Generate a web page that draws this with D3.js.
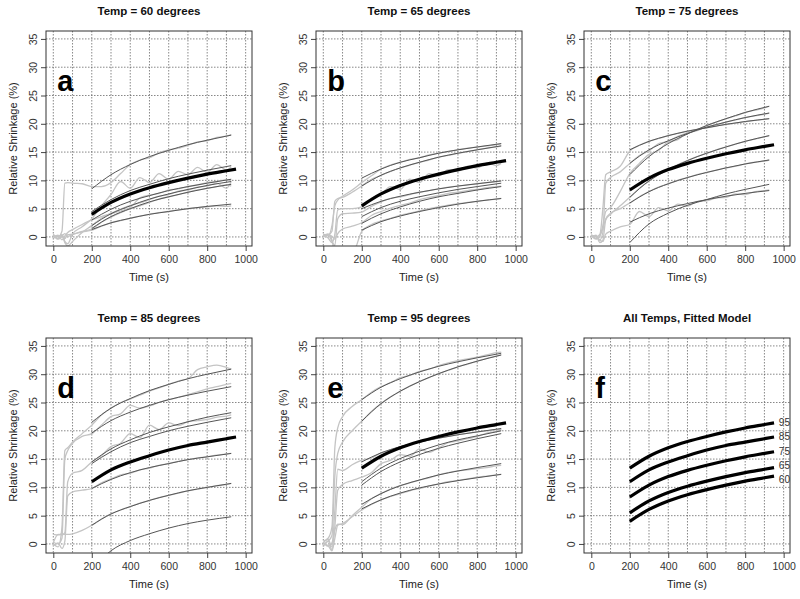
<!DOCTYPE html>
<html>
<head>
<meta charset="utf-8">
<script src="https://cdn.jsdelivr.net/npm/d3@7"></script>
<style>
  body { margin: 0; background: #fff; }
  svg { font-family: "Liberation Sans", Arial, sans-serif; }
</style>
</head>
<body>
<div id="chart"></div>
<script>

// ----------------------------------------------------------------
// Data
// ----------------------------------------------------------------

const panelLetters = ["a", "b", "c", "d", "e", "f"];
const panelTitles = ["Temp = 60 degrees", "Temp = 65 degrees", "Temp = 75 degrees",
                     "Temp = 85 degrees", "Temp = 95 degrees", "All Temps, Fitted Model"];
const temps = [60, 65, 75, 85, 95];

const xTicks = [0, 200, 400, 600, 800, 1000];
const yTicks = [0, 5, 10, 15, 20, 25, 30, 35];

// times of the fitted model curves (thick black)
const modelTimes = [200, 300, 400, 500, 600, 700, 800, 900, 950];
const model60 = [4.0, 6.1, 7.6, 8.7, 9.6, 10.4, 11.1, 11.7, 12.0];
const model65 = [5.5, 7.6, 9.1, 10.2, 11.1, 11.9, 12.6, 13.2, 13.5];
const model75 = [8.3, 10.4, 11.9, 13.0, 13.9, 14.7, 15.4, 16.0, 16.3];
const model85 = [11.0, 13.1, 14.5, 15.6, 16.6, 17.4, 18.0, 18.6, 18.9];
const model95 = [13.4, 15.5, 17.0, 18.1, 19.0, 19.8, 20.5, 21.1, 21.4];

// times of the individual fitted curves (dark grey)
const fitTimes = [200, 300, 400, 500, 600, 700, 800, 925];
const fitA = [
  [8.5, 11.0, 12.8, 14.2, 15.3, 16.3, 17.1, 18.0],
  [4.5, 6.6, 8.2, 9.3, 10.3, 11.1, 11.8, 12.6],
  [3.0, 4.9, 6.3, 7.3, 8.2, 8.9, 9.5, 10.2],
  [2.0, 4.1, 5.5, 6.7, 7.6, 8.4, 9.1, 9.8],
  [1.5, 3.6, 5.0, 6.2, 7.1, 7.9, 8.6, 9.3],
  [1.3, 2.5, 3.3, 4.0, 4.5, 5.0, 5.4, 5.8]
];
const fitB = [
  [10.4, 12.0, 13.2, 14.0, 14.8, 15.4, 15.9, 16.5],
  [9.0, 10.9, 12.2, 13.2, 14.1, 14.8, 15.4, 16.1],
  [5.0, 6.3, 7.2, 7.9, 8.5, 9.0, 9.4, 9.9],
  [3.6, 5.2, 6.3, 7.1, 7.8, 8.4, 8.9, 9.5],
  [2.4, 4.1, 5.3, 6.3, 7.1, 7.7, 8.3, 8.9],
  [1.2, 2.7, 3.7, 4.5, 5.2, 5.8, 6.3, 6.8]
];
const fitC = [
  [15.4, 16.9, 17.9, 18.7, 19.3, 19.9, 20.4, 20.9],
  [13.0, 15.4, 17.0, 18.3, 19.4, 20.3, 21.1, 21.9],
  [11.0, 14.2, 16.5, 18.2, 19.7, 20.9, 22.0, 23.1],
  [7.0, 9.9, 11.9, 13.5, 14.8, 15.9, 16.9, 17.9],
  [6.0, 8.0, 9.4, 10.5, 11.4, 12.2, 12.9, 13.6],
  [2.6, 4.1, 5.1, 5.9, 6.6, 7.2, 7.7, 8.2],
  [-1.0, 2.3, 4.2, 5.6, 6.6, 7.6, 8.4, 9.3]
];
const fitD = [
  [21.5, 24.0, 25.7, 27.1, 28.2, 29.2, 30.0, 30.9],
  [19.6, 21.8, 23.3, 24.5, 25.5, 26.3, 27.0, 27.8],
  [14.5, 16.8, 18.4, 19.7, 20.7, 21.6, 22.4, 23.2],
  [14.2, 16.3, 17.9, 19.0, 20.0, 20.8, 21.5, 22.3],
  [9.8, 11.4, 12.6, 13.5, 14.2, 14.9, 15.4, 16.0],
  [3.3, 5.3, 6.6, 7.7, 8.6, 9.4, 10.0, 10.7],
  [-4.5, -1.2, 0.6, 1.8, 2.8, 3.6, 4.2, 4.8]
];
const fitE = [
  [25.5, 27.7, 29.2, 30.4, 31.4, 32.2, 32.9, 33.7],
  [21.7, 24.8, 27.0, 28.7, 30.1, 31.3, 32.3, 33.4],
  [14.5, 16.1, 17.2, 18.0, 18.7, 19.3, 19.8, 20.4],
  [11.0, 13.4, 15.1, 16.4, 17.5, 18.4, 19.1, 20.0],
  [10.4, 12.8, 14.5, 15.8, 16.9, 17.8, 18.6, 19.5],
  [7.0, 8.9, 10.3, 11.3, 12.2, 12.9, 13.5, 14.2],
  [6.2, 7.8, 9.0, 9.9, 10.6, 11.2, 11.7, 12.3]
];

// times of the raw measurements (light grey)
const rawTimes = [0, 25, 45, 60, 75, 100, 150, 200, 250, 300, 350, 400, 450,
                  500, 550, 600, 650, 700, 750, 800, 850, 900, 925];
const rawA = [
  [0.2, 0.0, 1.0, 9.5, 9.6, 9.5, 9.4, 8.9, 8.9, 9.6, 11.2, 12.8, 13.6, 14.0, 14.9, 15.4, 15.7, 16.2, 16.8, 17.0, 17.6, 17.8, 18.1],
  [0.5, -0.3, 0.4, -0.8, -1.2, 0.5, 1.8, 3.2, 5.5, 7.5, 9.8, 8.6, 10.5, 9.6, 11.2, 10.2, 11.6, 11.0, 12.3, 11.4, 12.8, 11.8, 12.4],
  [0.0, 0.3, -0.5, 0.2, 0.8, 1.3, 2.2, 3.0, 3.6, 4.1, 4.6, 5.2, 6.9, 7.4, 7.7, 8.3, 8.5, 8.9, 9.2, 9.6, 9.8, 10.1, 10.0],
  [-0.2, 0.1, 0.3, -1.0, -1.6, -0.8, 0.8, 2.0, 3.3, 4.2, 4.9, 5.6, 6.0, 6.6, 7.2, 7.5, 8.1, 8.3, 8.8, 9.0, 9.5, 8.6, 9.8],
  [0.3, -0.4, 0.2, 0.6, 0.1, 0.4, 1.0, 1.4, 2.6, 3.5, 4.3, 5.0, 5.5, 6.1, 6.7, 7.1, 7.5, 7.9, 8.3, 8.6, 8.9, 9.2, 9.0],
  [0.0, 0.2, 0.1, -0.3, 0.4, 0.5, 0.9, 1.2, 1.9, 2.5, 2.9, 3.3, 3.7, 4.0, 4.3, 4.5, 4.8, 5.0, 5.2, 5.3, 5.5, 5.4, 5.5]
];
const rawB = [
  [0.5, 0.2, 2.0, 5.5, 6.5, 7.2, 8.3, 9.6, 10.8, 12.0, 12.7, 13.2, 13.7, 14.0, 14.5, 14.8, 15.1, 15.4, 15.7, 15.9, 16.1, 16.3, 16.5],
  [0.0, 0.3, 1.0, 6.3, 6.8, 7.0, 7.9, 9.0, 10.2, 10.9, 11.6, 12.2, 12.7, 13.2, 13.6, 14.1, 14.4, 14.8, 15.1, 15.4, 15.7, 15.9, 16.1],
  [0.3, -0.2, -1.0, 0.5, 4.8, 5.0, 5.0, 5.3, 6.8, 7.6, 8.9, 8.4, 10.2, 9.6, 11.2, 10.8, 11.9, 11.6, 12.5, 12.2, 13.1, 12.6, 13.0],
  [0.2, 0.5, -0.8, -1.5, 3.2, 4.1, 4.2, 4.4, 5.4, 6.2, 6.8, 7.1, 7.5, 7.9, 8.2, 8.5, 8.8, 9.0, 9.2, 9.4, 9.6, 9.8, 9.9],
  [0.0, 0.4, 0.1, -0.4, 0.6, 1.4, 1.9, 2.5, 3.8, 4.5, 5.1, 5.6, 6.0, 6.6, 7.0, 7.3, 7.7, 7.9, 8.2, 8.4, 8.7, 8.9, 9.0],
  [0.3, 0.5, -0.5, -3.0, -3.0, -3.0, -3.0, 1.0, 2.2, 2.8, 3.3, 3.8, 4.2, 4.6, 5.0, 5.3, 5.6, 5.9, 6.1, 6.3, 6.5, 6.7, 6.8]
];
const rawC = [
  [0.2, 0.0, 0.5, 5.0, 11.0, 11.5, 12.5, 15.2, 16.2, 16.9, 17.4, 17.9, 18.3, 18.7, 19.0, 19.3, 19.6, 19.9, 20.1, 20.4, 20.6, 20.8, 20.9],
  [0.0, 0.3, -0.5, 0.8, 9.5, 10.5, 11.5, 13.0, 14.4, 15.2, 16.5, 16.9, 17.8, 18.4, 18.8, 19.5, 19.8, 20.3, 20.7, 21.1, 21.4, 21.7, 21.9],
  [0.4, -0.3, 0.2, 2.0, 4.5, 5.2, 8.0, 11.2, 13.0, 14.6, 15.3, 16.8, 17.2, 18.5, 19.0, 19.7, 20.3, 20.9, 21.4, 22.0, 22.4, 22.8, 23.1],
  [0.0, 0.2, -1.0, -0.6, 3.0, 4.0, 5.5, 7.0, 8.6, 9.9, 11.0, 11.9, 12.8, 13.5, 14.2, 14.8, 15.4, 15.9, 16.4, 16.9, 17.3, 17.7, 17.9],
  [0.3, 0.0, -0.6, -0.8, 0.5, 1.0, 1.8, 2.2, 4.5, 3.6, 5.2, 4.6, 5.8, 5.4, 6.3, 6.4, 6.9, 7.0, 7.6, 7.5, 8.0, 8.2, 8.3],
  [0.2, -0.4, 0.3, 1.5, 3.2, 4.2, 5.0, 6.0, 7.1, 8.0, 8.8, 9.4, 10.0, 10.5, 11.0, 11.4, 11.8, 12.2, 12.5, 12.9, 13.2, 13.4, 13.6]
];
const rawD = [
  [0.0, -0.5, 3.0, 16.5, 17.0, 18.0, 19.5, 21.0, 22.8, 24.0, 25.0, 25.6, 26.3, 27.0, 27.6, 28.2, 28.8, 29.2, 30.8, 31.3, 31.6, 31.2, 30.9],
  [0.3, 0.0, 1.0, 15.0, 16.5, 17.8, 19.0, 19.5, 21.0, 22.5, 23.0, 24.5, 24.0, 24.4, 25.0, 25.5, 25.9, 26.4, 26.9, 27.4, 27.8, 28.2, 28.4],
  [0.2, 1.7, 1.6, 2.0, 11.0, 12.5, 13.0, 14.5, 15.6, 17.2, 17.8, 19.5, 18.8, 21.0, 20.2, 21.4, 20.9, 21.6, 21.8, 22.0, 22.4, 22.6, 22.8],
  [-0.3, 0.2, -0.8, 0.5, 8.5, 9.2, 9.5, 9.8, 10.8, 11.5, 12.2, 12.5, 13.1, 13.4, 13.9, 14.2, 14.6, 14.9, 15.2, 15.4, 15.7, 15.9, 16.0],
  [1.7, 1.6, 1.8, 1.7, 1.7, 1.8, 2.4, 3.3, 4.4, 5.3, 6.0, 6.6, 7.2, 7.7, 8.2, 8.6, 9.0, 9.4, 9.7, 10.0, 10.3, 10.5, 10.7]
];
const rawE = [
  [0.5, 1.0, 3.0, 17.0, 20.5, 22.5, 24.3, 25.5, 26.8, 27.8, 28.5, 29.4, 29.8, 30.5, 30.9, 31.5, 32.0, 32.4, 32.7, 33.0, 33.4, 33.8, 33.9],
  [0.0, 0.5, 1.5, 12.0, 16.0, 18.0, 20.0, 21.7, 23.4, 24.8, 26.0, 27.0, 27.9, 28.7, 29.4, 30.1, 30.7, 31.3, 31.8, 32.3, 32.8, 33.2, 33.4],
  [0.2, 0.8, -0.5, 6.0, 13.2, 13.0, 14.0, 14.8, 15.2, 16.1, 16.6, 17.2, 17.6, 18.0, 18.4, 18.7, 19.0, 19.3, 19.6, 19.8, 20.0, 20.2, 20.3],
  [-0.5, 0.5, -1.0, 3.0, 9.5, 10.5, 11.2, 11.8, 12.6, 14.2, 14.8, 15.8, 15.5, 16.8, 16.2, 17.0, 17.9, 18.2, 18.6, 19.0, 19.6, 19.9, 20.3],
  [0.3, -0.4, 0.2, 2.5, 3.5, 3.4, 5.0, 6.5, 8.0, 8.9, 9.7, 10.3, 10.8, 11.3, 11.7, 12.2, 12.6, 12.9, 13.1, 13.3, 13.5, 13.8, 13.9],
  [0.0, -0.3, -1.2, 1.0, 3.3, 3.6, 4.8, 6.0, 7.0, 7.8, 8.4, 8.9, 9.4, 9.8, 10.2, 10.6, 11.0, 11.2, 11.5, 11.8, 12.0, 12.2, 12.3]
];

// ----------------------------------------------------------------
// Layout
// ----------------------------------------------------------------

const width = 800;
const height = 599;
const colLeft = [46, 316, 584];
const rowTop = [31, 338];
const plotW = 206;
const plotH = 215;

const models = [model60, model65, model75, model85, model95];
const panels = [
  { fits: fitA, raws: rawA, models: [model60] },
  { fits: fitB, raws: rawB, models: [model65] },
  { fits: fitC, raws: rawC, models: [model75] },
  { fits: fitD, raws: rawD, models: [model85] },
  { fits: fitE, raws: rawE, models: [model95] },
  { fits: [], raws: [], models: models }
];

const svg = d3.select("#chart").append("svg")
  .attr("width", width)
  .attr("height", height);

const x = d3.scaleLinear().domain([-38, 1033]).range([0, plotW]);
const y = d3.scaleLinear().domain([-1.6, 36.4]).range([plotH, 0]);

function lineFor (times) {
  return d3.line()
    .x((d, i) => x(times[i]))
    .y(d => y(d))
    .curve(d3.curveMonotoneX);
}

panels.forEach(function (p, i) {
  const left = colLeft[i % 3];
  const top = rowTop[Math.floor(i / 3)];
  const g = svg.append("g").attr("transform", "translate(" + left + "," + top + ")");

  g.append("clipPath").attr("id", "clip" + i)
    .append("rect").attr("width", plotW).attr("height", plotH);

  // grid
  const grid = g.append("g")
    .attr("stroke", "#555").attr("stroke-width", 0.7).attr("stroke-dasharray", "1.5,1.5");
  grid.selectAll("line.v").data(d3.range(0, 1001, 100)).join("line")
    .attr("class", "v")
    .attr("x1", d => x(d)).attr("x2", d => x(d))
    .attr("y1", 0).attr("y2", plotH);
  grid.selectAll("line.h").data(yTicks).join("line")
    .attr("class", "h")
    .attr("x1", 0).attr("x2", plotW)
    .attr("y1", d => y(d)).attr("y2", d => y(d));

  const plot = g.append("g").attr("clip-path", "url(#clip" + i + ")");

  plot.selectAll("path.raw").data(p.raws).join("path")
    .attr("class", "raw")
    .attr("d", lineFor(rawTimes))
    .attr("fill", "none").attr("stroke", "#c4c4c4").attr("stroke-width", 1.3);

  plot.selectAll("path.fit").data(p.fits).join("path")
    .attr("class", "fit")
    .attr("d", lineFor(fitTimes))
    .attr("fill", "none").attr("stroke", "#555").attr("stroke-width", 1);

  plot.selectAll("path.model").data(p.models).join("path")
    .attr("class", "model")
    .attr("d", lineFor(modelTimes))
    .attr("fill", "none").attr("stroke", "#000").attr("stroke-width", 3.2);

  // axes
  const xAxis = g.append("g").attr("transform", "translate(0," + plotH + ")")
    .call(d3.axisBottom(x).tickValues(xTicks).tickFormat(d3.format("d")).tickSize(5).tickPadding(3));
  const yAxis = g.append("g")
    .call(d3.axisLeft(y).tickValues(yTicks).tickSize(5).tickPadding(3));
  [xAxis, yAxis].forEach(function (a) {
    a.select(".domain").remove();
    a.selectAll("line").attr("stroke", "#444");
    a.selectAll("text").attr("fill", "#333")
      .style("font-family", "'Liberation Sans', Arial, sans-serif").style("font-size", "10.5px");
  });
  xAxis.selectAll("text").attr("dy", "0.9em");
  yAxis.selectAll("text")
    .attr("transform", "translate(-13,0) rotate(-90)")
    .attr("x", 0).attr("y", 0).attr("dy", "0.35em")
    .attr("text-anchor", "middle");

  g.append("rect")
    .attr("width", plotW).attr("height", plotH)
    .attr("fill", "none").attr("stroke", "#333").attr("stroke-width", 1);

  // texts
  g.append("text")
    .attr("x", plotW / 2).attr("y", -16)
    .attr("text-anchor", "middle")
    .attr("font-size", 11.5).attr("font-weight", "bold").attr("fill", "#111")
    .text(panelTitles[i]);

  g.append("text")
    .attr("x", plotW / 2).attr("y", plotH + 35)
    .attr("text-anchor", "middle")
    .attr("font-size", 11).attr("fill", "#222")
    .text("Time (s)");

  g.append("text")
    .attr("transform", "translate(-29," + (plotH / 2) + ") rotate(-90)")
    .attr("text-anchor", "middle")
    .attr("font-size", 11).attr("fill", "#222")
    .text("Relative Shrinkage (%)");

  g.append("text")
    .attr("x", x(20)).attr("y", y(25.8))
    .attr("font-size", 29).attr("font-weight", "bold").attr("fill", "#000")
    .text(panelLetters[i]);

  if (i === 5) {
    g.selectAll("text.temp").data(temps).join("text")
      .attr("class", "temp")
      .attr("x", x(975))
      .attr("y", (d, k) => y(models[k][models[k].length - 1]))
      .attr("dy", (d, k) => k === 0 ? "0.65em" : k === 1 ? "0.15em" : "0.3em")
      .attr("font-size", 10).attr("fill", "#333")
      .text(d => d);
  }
});

</script>
</body>
</html>
